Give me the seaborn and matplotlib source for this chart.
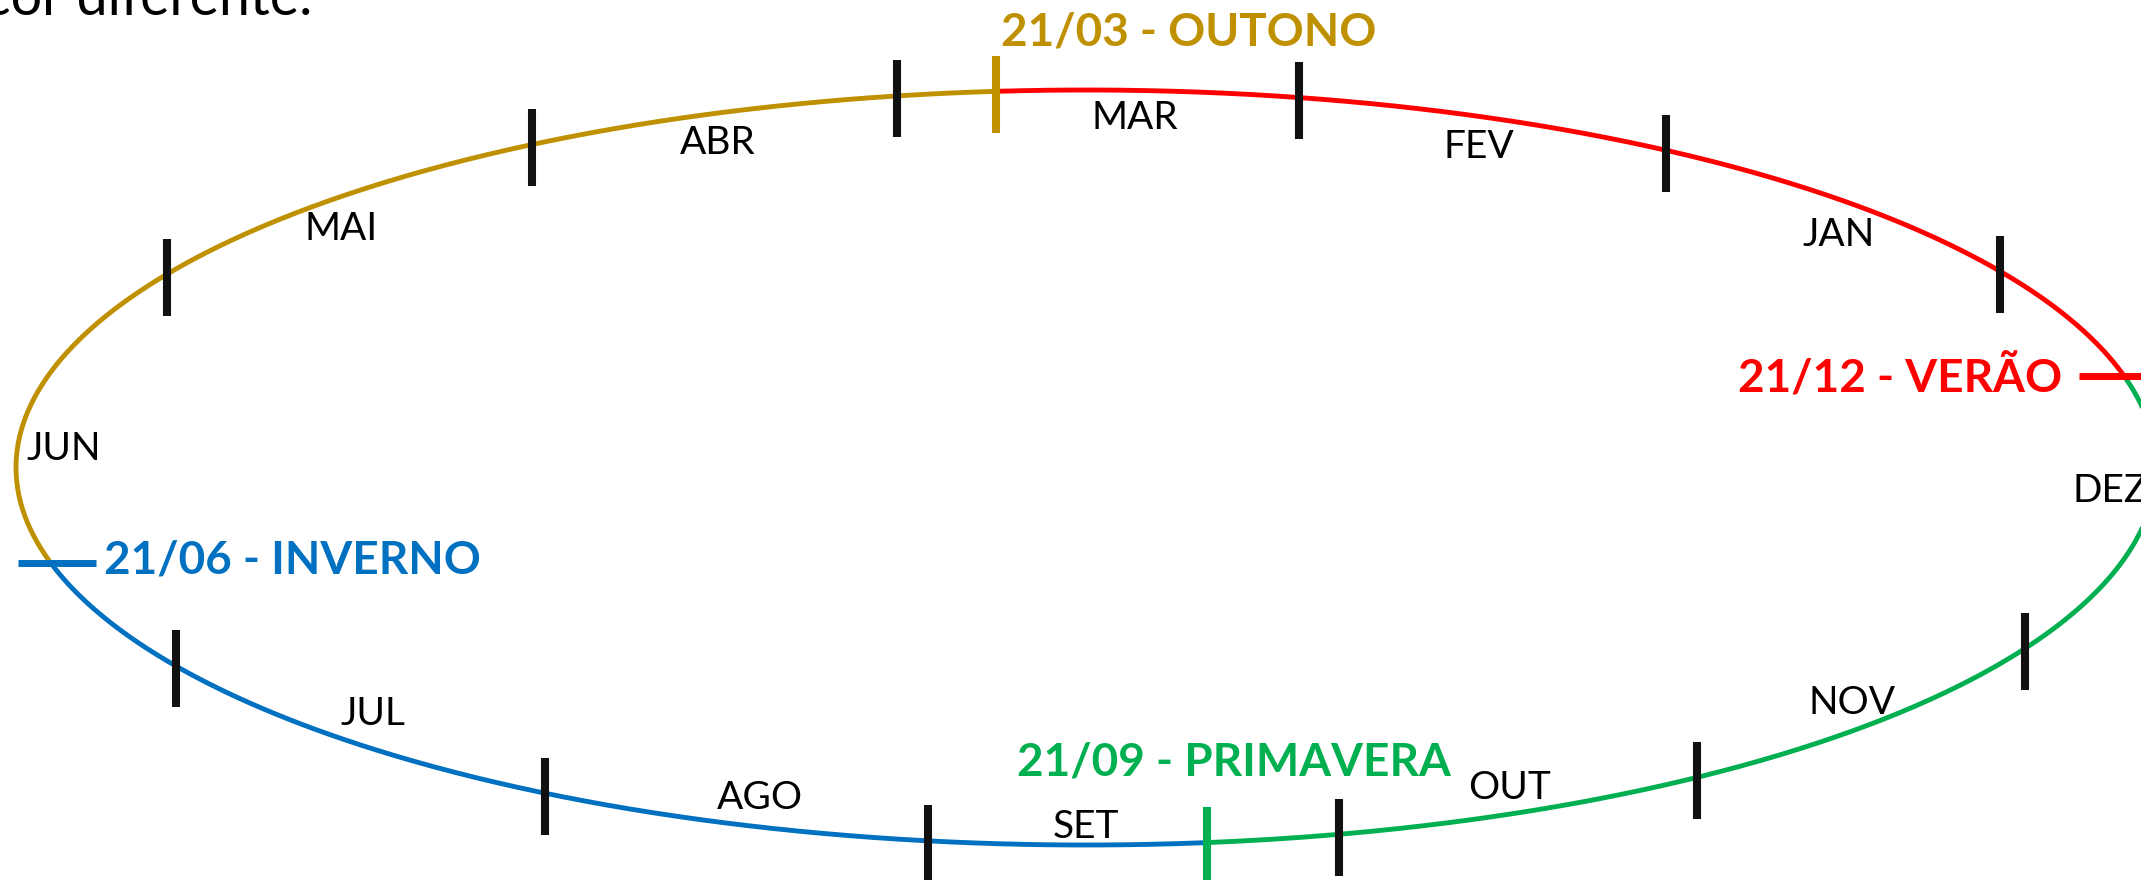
import numpy as np
import pandas as pd
import matplotlib
matplotlib.use("Agg")
import matplotlib.pyplot as plt
import seaborn as sns

sns.set_theme(style="white")
plt.rcParams["font.family"] = ["Lato", "DejaVu Sans"]

# month names (going clockwise from the top) and where each month boundary sits on the orbit (deg)
month_names = ["MAR", "FEV", "JAN", "DEZ", "NOV", "OUT", "SET", "AGO", "JUL", "JUN", "MAI", "ABR"]
month_tick_deg = [78.5, 57.2, 31.3, 331.4, 304.8, 283.7, 261.5, 239.6, 211.7, 149.2, 121.2, 100.2]
month_label_deg = [87.2, 66.6, 41.2, 356.3, 318.9, 295.0, 270.0, 250.8, 224.4, 177.1, 137.8, 111.8]
month_label_r = [0.927, 0.925, 0.935, 0.959, 0.950, 0.937, 0.952, 0.926, 0.933, 0.957, 0.940, 0.926]

# seasons: start date, name, position on the orbit (deg)
season_dates = ["21/03", "21/06", "21/09", "21/12"]
season_names = ["OUTONO", "INVERNO", "PRIMAVERA", "VERÃO"]
season_deg = [94.8, 194.7, 276.5, 374.0]
season_colors = ["#BF9000", "#0070C0", "#00B050", "#FF0000"]

# ellipse geometry in pixel space
cx, cy, ra, rb = 1086, 467.5, 1070, 377.5
W, H = 2141, 880


def on_orbit(deg, r=1.0):
    t = np.deg2rad(deg)
    return cx + r * ra * np.cos(t), cy - r * rb * np.sin(t)


# build arc points for each season
rows = []
for i, name in enumerate(season_names):
    start = season_deg[i]
    end = season_deg[(i + 1) % 4]
    if end <= start:
        end += 360
    for k, t in enumerate(np.linspace(start, end, 300)):
        x, y = on_orbit(t)
        rows.append({"season": name, "k": k, "x": x, "y": y})
arcs = pd.DataFrame(rows)

fig = plt.figure(figsize=(W / 100, H / 100), dpi=100)
ax = fig.add_axes([0, 0, 1, 1])

sns.lineplot(data=arcs, x="x", y="y", hue="season", hue_order=season_names,
             palette=dict(zip(season_names, season_colors)), sort=False,
             estimator=None, linewidth=3.5, legend=False, ax=ax)

# month boundary ticks
tick_len = 77
for d in month_tick_deg:
    x, y = on_orbit(d)
    ax.plot([x, x], [y + 3 - tick_len / 2, y + 3 + tick_len / 2], color="#111111",
            lw=5.8, solid_capstyle="butt", zorder=3)

# month labels
for name, d, r in zip(month_names, month_label_deg, month_label_r):
    x, y = on_orbit(d, r)
    ax.text(x, y, name, fontsize=28, color="black", ha="center", va="center")

# season markers: vertical on top/bottom, horizontal on the sides
for i, d in enumerate(season_deg):
    x, y = on_orbit(d)
    if abs(np.sin(np.deg2rad(d))) > 0.7:
        ax.plot([x, x], [y + 3 - tick_len / 2, y + 3 + tick_len / 2], color=season_colors[i],
                lw=5.8, solid_capstyle="butt", zorder=3)
    else:
        side = 1 if np.cos(np.deg2rad(d)) < 0 else -1
        ax.plot([x - 33 * side, x + 45 * side], [y, y], color=season_colors[i],
                lw=5.0, solid_capstyle="butt", zorder=3)

# season labels
label_xy = [(1001, 33, "left"), (104, 561, "left"), (1017, 762, "left"), (2062, 377, "right")]
for i, (lx, ly, ha) in enumerate(label_xy):
    ax.text(lx, ly, f"{season_dates[i]} - {season_names[i]}", fontsize=33,
            fontweight="bold", color=season_colors[i], ha=ha, va="center")

# leftover line of text from the slide above
ax.text(-16, 15, "cor diferente.", fontsize=40, color="black", ha="left", va="baseline")

ax.set_xlim(0, W)
ax.set_ylim(H, 0)
ax.axis("off")

fig.savefig("out.png", dpi=100)
